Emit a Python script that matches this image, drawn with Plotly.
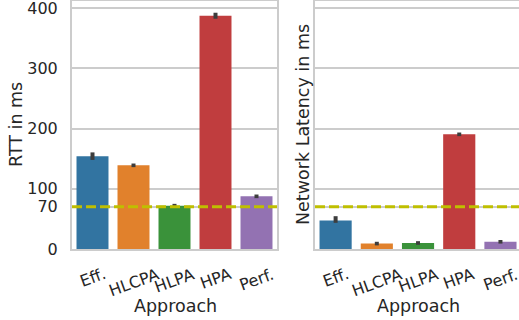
import plotly.graph_objects as go

approaches = ["Eff.", "HLCPA", "HLPA", "HPA", "Perf."]
colors = ["#3274a1", "#e1812c", "#3a923a", "#c03d3e", "#9372b2"]
rtt = [154, 139, 72, 387.5, 87.5]
rtt_err_plus = [6.5, 3, 3, 5, 3]
rtt_err_minus = [6, 3, 3, 5, 3]
lat = [47.5, 9, 10, 190.5, 12]
lat_err_plus = [7, 3, 3, 3, 3]
lat_err_minus = [4, 3, 3, 3, 3]
slo = 70
yticks = [0, 70, 100, 200, 300, 400]

TXT = "#262626"
GRID = "#cccccc"
FONT = "DejaVu Sans"

fig = go.Figure()
fig.add_trace(go.Bar(
    x=list(range(len(approaches))), y=rtt, marker_color=colors, marker_line_width=0,
    width=0.78,
    error_y=dict(type="data", array=rtt_err_plus, arrayminus=rtt_err_minus,
                 thickness=4, width=0, color="#3d3d3d"),
    xaxis="x", yaxis="y", showlegend=False))
fig.add_trace(go.Bar(
    x=list(range(len(approaches))), y=lat, marker_color=colors, marker_line_width=0,
    width=0.78,
    error_y=dict(type="data", array=lat_err_plus, arrayminus=lat_err_minus,
                 thickness=4, width=0, color="#3d3d3d"),
    xaxis="x2", yaxis="y2", showlegend=False))

axis_common = dict(showline=True, mirror=True, linecolor=GRID, linewidth=2,
                   zeroline=False, automargin=False)
yaxis_common = dict(range=[0, 412], tickvals=yticks, ticktext=[str(v) for v in yticks],
                    showgrid=True, gridcolor=GRID, gridwidth=1.5, ticks="",
                    **axis_common)

fig.update_layout(
    width=519, height=320,
    margin=dict(l=72, r=0, t=1, b=71, autoexpand=False),
    plot_bgcolor="white", paper_bgcolor="white",
    font=dict(family=FONT, color=TXT, size=16),
    xaxis=dict(domain=[0, 205 / 447], range=[-0.5, 4.5], showticklabels=False,
               showgrid=False, ticks="", **axis_common),
    xaxis2=dict(domain=[243 / 447, 1], range=[-0.5, 4.45], showticklabels=False,
                showgrid=False, ticks="", **axis_common),
    yaxis=dict(anchor="x", ticklabelstandoff=9, tickfont=dict(size=16, color=TXT),
               ticklabeloverflow="allow", **yaxis_common),
    yaxis2=dict(anchor="x2", matches="y", showticklabels=False, **yaxis_common),
)

for xr, yr in (("x", "y"), ("x2", "y2")):
    fig.add_shape(type="line", xref=f"{xr} domain", yref=yr, x0=0, x1=1, y0=slo, y1=slo,
                  line=dict(color="#bfbf00", width=3, dash="10px,4px"), layer="above")
    for i, name in enumerate(approaches):
        fig.add_annotation(x=i, y=0, xref=xr, yref=yr, text=name, showarrow=False,
                           textangle=-20, yanchor="top", xanchor="center", yshift=-13,
                           font=dict(size=16, color=TXT, family=FONT))

# axis titles
fig.add_annotation(x=(175 - 72) / 447, y=(249 - 306) / 248, xref="paper", yref="paper",
                   text="Approach", showarrow=False, xanchor="center", yanchor="middle",
                   font=dict(size=17.5, color=TXT, family=FONT))
fig.add_annotation(x=(418 - 72) / 447, y=(249 - 306) / 248, xref="paper", yref="paper",
                   text="Approach", showarrow=False, xanchor="center", yanchor="middle",
                   font=dict(size=17.5, color=TXT, family=FONT))
fig.add_annotation(x=(16 - 72) / 447, y=0.5, xref="paper", yref="paper",
                   text="RTT in ms", showarrow=False, textangle=-90,
                   xanchor="center", yanchor="middle",
                   font=dict(size=17.5, color=TXT, family=FONT))
fig.add_annotation(x=(303 - 72) / 447, y=0.5, xref="paper", yref="paper",
                   text="Network Latency in ms", showarrow=False, textangle=-90,
                   xanchor="center", yanchor="middle",
                   font=dict(size=17.5, color=TXT, family=FONT))

fig.write_html("out.html", config={"displayModeBar": False},
               post_script="document.body.style.margin='0';document.body.style.overflow='hidden';")
